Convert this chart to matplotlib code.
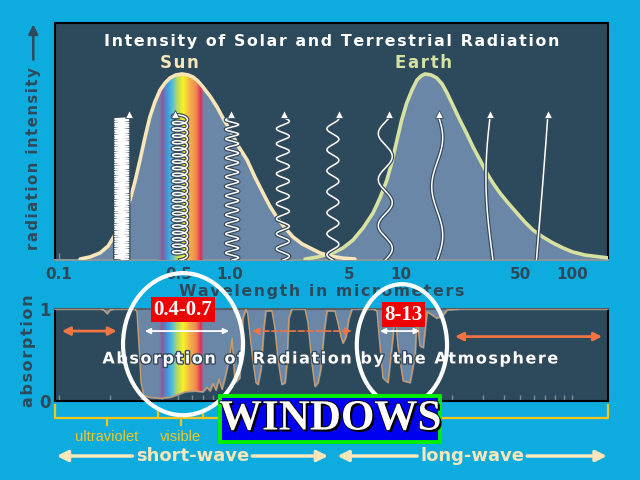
import numpy as np
import matplotlib
matplotlib.use("Agg")
import matplotlib.pyplot as plt
import matplotlib.patheffects as pe
from matplotlib import transforms
from matplotlib.patches import Ellipse, Rectangle, FancyArrowPatch
from matplotlib.colors import LinearSegmentedColormap

# Sun emission curve (wavelength in micrometers, relative intensity)
sun_lam = [0.133, 0.152, 0.174, 0.194, 0.212, 0.233, 0.260, 0.278, 0.298, 0.318,
           0.340, 0.364, 0.390, 0.417, 0.446, 0.483, 0.524, 0.568, 0.608, 0.650,
           0.695, 0.764, 0.840, 0.910, 1.0, 1.11, 1.26, 1.40, 1.56, 1.71,
           1.88, 2.10, 2.34, 2.64, 2.94, 3.36, 3.84, 4.58, 5.38]
sun_int = [0.004, 0.013, 0.030, 0.059, 0.105, 0.169, 0.253, 0.329, 0.422, 0.515,
           0.603, 0.667, 0.717, 0.747, 0.768, 0.781, 0.785, 0.781, 0.772, 0.755,
           0.730, 0.692, 0.646, 0.599, 0.549, 0.485, 0.422, 0.350, 0.283, 0.228,
           0.181, 0.135, 0.097, 0.068, 0.051, 0.030, 0.017, 0.008, 0.004]

# Earth emission curve
earth_lam = [2.75, 3.27, 4.00, 4.58, 5.24, 6.00, 6.86, 7.54, 8.28, 8.86,
             9.48, 10.1, 10.8, 11.6, 12.4, 13.1, 13.8, 15.0, 16.2, 17.4,
             18.6, 20.1, 22.1, 24.3, 26.4, 29.0, 31.8, 34.5, 37.9, 42.3,
             47.7, 53.1, 59.1, 67.7, 77.4, 88.6, 101, 119, 146, 167]
earth_int = [0.004, 0.013, 0.030, 0.051, 0.084, 0.135, 0.198, 0.262, 0.338, 0.414,
             0.506, 0.591, 0.662, 0.717, 0.759, 0.776, 0.785, 0.781, 0.768, 0.743,
             0.705, 0.654, 0.591, 0.532, 0.477, 0.422, 0.367, 0.325, 0.283, 0.241,
             0.198, 0.160, 0.127, 0.097, 0.072, 0.051, 0.034, 0.021, 0.013, 0.008]

# Atmospheric absorption (0 = transparent, 1 = fully absorbed)
abs_lam = [0.095, 0.174, 0.183, 0.191, 0.199, 0.210, 0.278, 0.286, 0.294, 0.302,
           0.314, 0.340, 0.390, 0.446, 0.497, 0.546, 0.624, 0.695, 0.733, 0.764,
           0.796, 0.828, 0.863, 0.898, 0.935, 0.987, 1.03, 1.07, 1.14, 1.19,
           1.24, 1.27, 1.35, 1.42, 1.46, 1.52, 1.58, 1.62, 1.76, 1.83,
           1.91, 2.01, 2.10, 2.15, 2.21, 2.30, 2.75, 2.86, 3.02, 3.14,
           3.27, 3.40, 3.55, 3.69, 4.11, 4.28, 4.46, 4.58, 4.77, 4.96,
           5.17, 6.86, 7.24, 7.54, 7.85, 8.39, 8.98, 9.23, 9.60, 10.3,
           11.3, 12.1, 12.4, 12.9, 13.5, 14.2, 14.8, 16.2, 17.6, 18.6,
           22.1, 167]
abs_val = [1.0, 1.0, 0.99, 0.95, 0.99, 1.0, 1.0, 0.97, 0.60, 0.20,
           0.06, 0.04, 0.03, 0.04, 0.07, 0.10, 0.11, 0.10, 0.15, 0.11,
           0.19, 0.12, 0.24, 0.13, 0.25, 0.45, 0.68, 0.20, 0.25, 0.90,
           1.0, 0.95, 0.50, 0.20, 0.18, 0.35, 0.80, 0.98, 0.98, 0.80,
           0.45, 0.18, 0.20, 0.40, 0.90, 1.0, 1.0, 0.85, 0.40, 0.16,
           0.20, 0.35, 0.75, 0.98, 0.98, 0.85, 0.70, 0.63, 0.70, 0.90,
           1.0, 1.0, 0.98, 0.60, 0.25, 0.20, 0.70, 0.98, 0.60, 0.22,
           0.20, 0.50, 0.95, 0.60, 0.58, 0.97, 0.95, 0.90, 0.93, 0.99,
           1.0, 1.0]

# visible spectrum colours
spec_lam = [0.38, 0.40, 0.43, 0.46, 0.49, 0.53, 0.58, 0.63, 0.67, 0.70]
spec_col = ['#6a87a8', '#8a5c9c', '#3a9ee0', '#5cc0d8', '#b8dc58',
            '#f8f028', '#f4b048', '#ee8a50', '#e03058', '#6a87a8']

# wavelengths of the little wave symbols
wave_lam = [0.233, 0.51, 1.03, 2.04, 4.0, 8.1, 16.3, 34.5, 62]

tick_pos = [0.1, 0.5, 1, 5, 10, 50, 100]
tick_lab = ['0.1', '0.5', '1.0', '5', '10', '50', '100']

short_wave = (0.097, 3.75)
long_wave = (4.25, 160)
uv_band = (0.0948, 0.38)
vis_band = (0.38, 0.70)

# colours
bg = '#0eacde'
panel = '#2c4a5c'
fillc = '#6a87a8'
dark = '#2e4a5a'
cream = '#fae6b8'
green = '#d8e2a0'
orange = '#f07444'
yellow = '#f4c61c'

xmin, xmax = 0.0948, 162.5


def spaced(s):
    # a little letter spacing, like the original lettering
    return '\u200a'.join(s)


fig = plt.figure(figsize=(6.4, 4.8), dpi=100, facecolor=bg)
ax1 = fig.add_axes([0.0859, 0.4583, 0.8641, 0.4938])
ax2 = fig.add_axes([0.0859, 0.1646, 0.8641, 0.1917])

for ax in (ax1, ax2):
    ax.set_facecolor(panel)
    ax.set_xscale('log')
    ax.set_xlim(xmin, xmax)
    ax.set_ylim(0, 1)
    for s in ax.spines.values():
        s.set_color('black')
        s.set_linewidth(1.5)
    ax.tick_params(which='both', direction='in', color='#7d8d95', length=4, width=1)

ax1.spines['bottom'].set_color('#8a969c')

# --- top panel: emission curves ---
sun_fill = ax1.fill_between(sun_lam, 0, sun_int, color=fillc, zorder=2)
ax1.fill_between(earth_lam, 0, earth_int, color=fillc, zorder=2)

cmap = LinearSegmentedColormap.from_list(
    'spec', list(zip([(l - spec_lam[0]) / (spec_lam[-1] - spec_lam[0]) for l in spec_lam], spec_col)))
grad = cmap(np.linspace(0, 1, 256))[None, :, :]
im = ax1.imshow(grad, extent=(spec_lam[0], spec_lam[-1], 0, 1), aspect='auto',
                interpolation='bilinear', zorder=3)
im.set_clip_path(sun_fill.get_paths()[0], transform=ax1.transData)

ax1.plot(earth_lam, earth_int, color=green, lw=2.6, zorder=4, solid_capstyle='round')
ax1.plot(sun_lam, sun_int, color=cream, lw=2.6, zorder=4, solid_capstyle='round')

ax1.set_xticks(tick_pos)
ax1.set_xticklabels(tick_lab, fontsize=11, fontweight='bold', color=dark)
ax1.tick_params(axis='x', which='major', pad=5, length=5)
ax1.set_yticks([])

# wave symbols, drawn in pixel offsets around each wavelength
fig.canvas.draw()
ppd = ax1.bbox.width / np.log10(xmax / xmin)
pyu = ax1.bbox.height
h_px = 0.60 * pyu
periods = [2.4, 6.5, 9.5, 15, 21, 46, 98, 330, 1500]
amps = [7, 7.5, 6.5, 6.5, 6, 7, 5.5, 7, 20]
phases = [0, 0, 0, 0, np.pi, 0, 0, np.pi, 0]
wave_fx = [pe.Stroke(linewidth=2.8, foreground='#34495a'), pe.Normal()]
for i, c in enumerate(wave_lam):
    if i == 1:
        s = np.linspace(0, 2 * np.pi * h_px / periods[i], 3000)
        xo = amps[i] * np.sin(s)
        yo = periods[i] * s / (2 * np.pi) + 3.0 * (1 - np.cos(s))
        yo = yo * h_px / yo[-1]
    else:
        yo = np.linspace(0, h_px, 1500)
        xo = amps[i] * np.sin(2 * np.pi * yo / periods[i] + phases[i])
        if i == len(wave_lam) - 1:
            xo = xo - xo[0]
    ax1.plot(c * 10 ** (xo / ppd), yo / pyu, color='white', lw=1.1, zorder=5,
             path_effects=wave_fx)
    ax1.plot(c * 10 ** (xo[-1] / ppd), 0.615, marker='^', ms=6, color='white',
             mec='#34495a', mew=0.6, zorder=6)

ax1.text(0.5, 0.92, spaced('Intensity of Solar and Terrestrial Radiation'), transform=ax1.transAxes,
         ha='center', va='center', fontsize=11.4, fontweight='bold', color='white')
ax1.text(0.507, 0.83, spaced('Sun'), ha='center', va='center', fontsize=12, fontweight='bold', color=cream)
ax1.text(13.6, 0.83, spaced('Earth'), ha='center', va='center', fontsize=12, fontweight='bold', color=green)

fig.text(0.503, 0.392, spaced('Wavelength in micrometers'), ha='center', va='center',
         fontsize=11.3, fontweight='bold', color=dark)
fig.text(0.052, 0.669, spaced('radiation intensity'), rotation=90, ha='center', va='center',
         fontsize=10.7, fontweight='bold', color=dark)
fig.add_artist(FancyArrowPatch((0.052, 0.87), (0.052, 0.955), transform=fig.transFigure,
                               arrowstyle='-|>', mutation_scale=14, color=dark, lw=1.8))
fig.text(0.044, 0.269, spaced('absorption'), rotation=90, ha='center', va='center',
         fontsize=11.5, fontweight='bold', color=dark)

# --- bottom panel: absorption ---
trans_fill = ax2.fill_between(abs_lam, abs_val, 1, color=fillc, zorder=2)
im2 = ax2.imshow(grad, extent=(spec_lam[0], spec_lam[-1], 0, 1), aspect='auto',
                 interpolation='bilinear', zorder=3)
im2.set_clip_path(trans_fill.get_paths()[0], transform=ax2.transData)
ax2.plot(abs_lam, abs_val, color='#c99c70', lw=1, zorder=4)

ax2.set_xticks(tick_pos)
ax2.set_xticklabels([])
ax2.set_yticks([0, 1])
ax2.set_yticklabels(['0', '1'], fontsize=12, fontweight='bold', color=dark)
ax2.tick_params(axis='y', length=0, pad=3)
ax2.spines['top'].set_color('#555f66')

ax2.text(0.501, 0.457, spaced('Absorption of Radiation by the Atmosphere'), transform=ax2.transAxes,
         ha='center', va='center', fontsize=11.5, fontweight='bold', color='white', zorder=8,
         path_effects=[pe.Stroke(linewidth=2, foreground='#34495a'), pe.Normal()])


def arrow(ax, x0, x1, y, col, ls='-', lw=1.5, ms=10):
    ax.annotate('', xy=(x1, y), xytext=(x0, y),
                arrowprops=dict(arrowstyle='<|-|>', color=col, lw=lw, ls=ls,
                                mutation_scale=ms, shrinkA=0, shrinkB=0), zorder=7)


arrow(ax2, 0.104, 0.218, 0.76, orange, lw=2, ms=12)
arrow(ax2, 1.35, 5.17, 0.76, orange, ls='--', lw=1.2, ms=10)
arrow(ax2, 20.7, 150, 0.70, orange, lw=2, ms=12)
arrow(ax2, 0.318, 0.987, 0.76, 'white', lw=1.3, ms=8)
arrow(ax2, 7.54, 12.9, 0.76, 'white', lw=1.3, ms=8)

ax2.text(0.531, 0.99, '0.4-0.7', ha='center', va='center', fontsize=15, fontweight='bold',
         family='Liberation Serif', color='white', zorder=9,
         bbox=dict(boxstyle='square,pad=0.12', fc='#ee0000', ec='none'))
ax2.text(10.3, 0.935, '8-13', ha='center', va='center', fontsize=15, fontweight='bold',
         family='Liberation Serif', color='white', zorder=9,
         bbox=dict(boxstyle='square,pad=0.12', fc='#ee0000', ec='none'))

# window ellipses
fig.add_artist(Ellipse((0.286, 0.283), 0.1875, 0.296, transform=fig.transFigure,
                       fill=False, ec='white', lw=3, zorder=5))
fig.add_artist(Ellipse((0.628, 0.281), 0.141, 0.254, transform=fig.transFigure,
                       fill=False, ec='white', lw=3, zorder=5))

# brackets under the panel
blend = transforms.blended_transform_factory(ax2.transData, fig.transFigure)
yb, yup, ydn, yend = 0.129, 0.146, 0.115, 0.156
kw = dict(color=yellow, lw=1.6, transform=blend, clip_on=False, zorder=4)
ax2.plot([xmin, xmin, xmax, xmax], [yend, yb, yb, yend], **kw)
for band, name in [(uv_band, 'ultraviolet'), (vis_band, 'visible')]:
    mid = np.sqrt(band[0] * band[1])
    ax2.plot([mid, mid], [yb, ydn], **kw)
    ax2.text(mid, 0.0896, name, transform=blend, ha='center', va='center', fontsize=10.5,
             family='Liberation Sans', color=yellow, clip_on=False)
for edge in (vis_band[0], vis_band[1]):
    ax2.plot([edge, edge], [yb, yup], **kw)

# short-wave / long-wave arrows
ya = 0.05
for (lo, hi), name, half in [(short_wave, 'short-wave', 60), (long_wave, 'long-wave', 55)]:
    mid = np.sqrt(lo * hi)
    ax2.text(mid, ya, name, transform=blend, ha='center', va='center', fontsize=13,
             fontweight='bold', color=cream, clip_on=False)
    for end, off in [(lo, -half), (hi, half)]:
        ax2.annotate('', xy=(end, ya), xycoords=blend, xytext=(mid, ya),
                     textcoords=transforms.offset_copy(blend, fig=fig, x=off, y=0, units='dots'),
                     arrowprops=dict(arrowstyle='-|>', color=cream, lw=2.5, mutation_scale=16,
                                     shrinkA=0, shrinkB=0), annotation_clip=False)

# WINDOWS box
fig.add_artist(Rectangle((0.344, 0.079), 0.344, 0.096, transform=fig.transFigure,
                         fc='#0000f0', ec='#00ee00', lw=2.8, zorder=6))
fig.text(0.516, 0.126, 'WINDOWS', ha='center', va='center', fontsize=31, fontweight='bold',
         family='Liberation Serif', color='white', zorder=7,
         path_effects=[pe.withSimplePatchShadow(offset=(1.5, -1.5), shadow_rgbFace='black', alpha=1),
                       pe.Stroke(linewidth=1.2, foreground='black'), pe.Normal()])

fig.savefig('out.png', dpi=100, facecolor=bg)
